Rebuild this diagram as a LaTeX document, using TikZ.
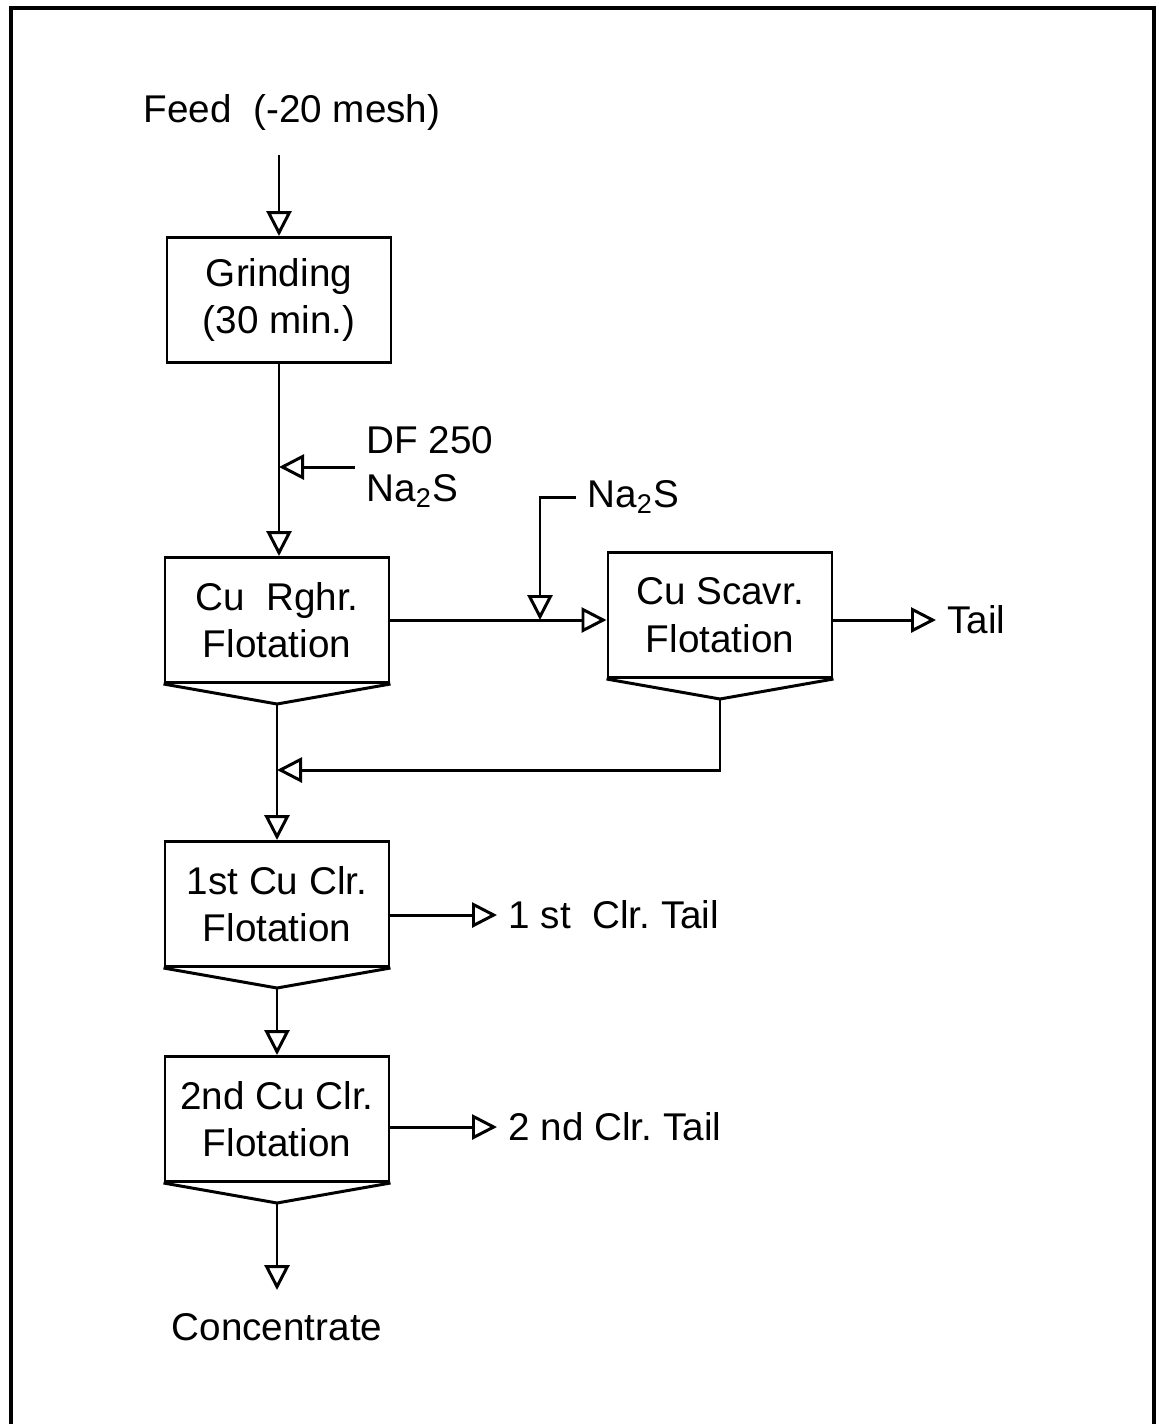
\documentclass[tikz,border=0pt]{standalone}
\usepackage{fontspec}
\setmainfont{Liberation Sans}
\usetikzlibrary{arrows.meta}

\begin{document}
\begin{tikzpicture}[x=0.1mm, y=-0.1mm, line width=0.85pt,
  font=\fontsize{11}{13.5}\selectfont,
  unit/.style={rectangle, draw, minimum width=22.4mm, minimum height=12.5mm,
               align=center, inner sep=0pt},
  lbl/.style={inner sep=1mm, align=left},
  flow/.style={-{Triangle[open, length=2.5mm, width=2.5mm]}}]
  \useasboundingbox (0,0) rectangle (1158,1424);
  \draw[line width=1.1pt] (11,1424) -- (11,8) -- (1154,8) -- (1154,1424);
  \node[lbl] (feed) at (292,112) {Feed\ \ (-20 mesh)};
  \node[unit] (grind) at (279,300) {Grinding\\(30 min.)};
  \node[unit] (rghr)  at (277,620) {Cu\ \ Rghr.\\Flotation};
  \node[unit] (scavr) at (720,615) {Cu Scavr.\\Flotation};
  \node[unit] (clr1)  at (277,904) {1st Cu Clr.\\Flotation};
  \node[unit] (clr2)  at (277,1119) {2nd Cu Clr.\\Flotation};
  \foreach \n in {rghr, scavr, clr1, clr2} {
    \coordinate (\n-t) at ([yshift=-2mm]\n.south);
    \draw (\n.south west) -- (\n-t) -- (\n.south east);
  }
  \node[lbl, anchor=west] (dflab) at (355,467) {DF 250\\Na\textsubscript{2}S};
  \node[lbl, anchor=west] (na)   at (576,497) {Na\textsubscript{2}S};
  \node[lbl, anchor=west] (tail) at (936,620) {Tail};
  \node[lbl, anchor=west] (t1)   at (497,915) {1 st\ \ Clr.\ Tail};
  \node[lbl, anchor=west] (t2)   at (497,1127) {2 nd Clr.\ Tail};
  \node[lbl, anchor=north, inner sep=2.2mm] (conc) at (277,1290) {Concentrate};
  \coordinate (feedin) at (279,155);
  \coordinate (najn) at (540,620);
  \coordinate (recy) at (277,770);
  \draw[flow] (feedin) -- (grind.north);
  \draw[flow] (grind.south) -- (grind.south |- rghr.north);
  \draw[flow] (dflab.west) -- (dflab.west -| grind.south);
  \draw[flow] (rghr.east) -- (rghr.east -| scavr.west);
  \draw[flow] (na.west) -| (najn);
  \draw[flow] (rghr.east -| scavr.east) -- (tail.west);
  \draw[flow] (scavr-t) |- (recy);
  \draw[flow] (rghr-t) -- (clr1.north);
  \draw[flow] (clr1.east |- t1.west) -- (t1.west);
  \draw[flow] (clr1-t) -- (clr2.north);
  \draw[flow] (clr2.east |- t2.west) -- (t2.west);
  \draw[flow] (clr2-t) -- (conc.north);
\end{tikzpicture}
\end{document}
